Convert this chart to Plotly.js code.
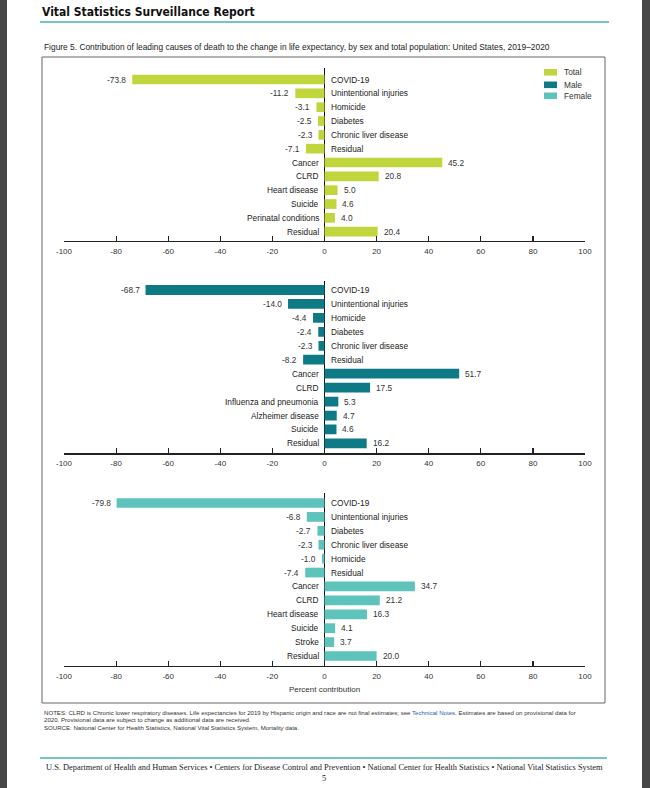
<!DOCTYPE html>
<html>
<head>
<meta charset="utf-8">
<script src="https://cdn.plot.ly/plotly-3.0.1.min.js"></script>
<style>
html,body{margin:0;padding:0;background:#fff;}
#chart{width:650px;height:788px;}
</style>
</head>
<body>
<div id="chart"></div>
<script>
// ---------- DATA ----------
const totalCategories = ["COVID-19","Unintentional injuries","Homicide","Diabetes","Chronic liver disease","Residual","Cancer","CLRD","Heart disease","Suicide","Perinatal conditions","Residual"];
const totalValues = [-73.8,-11.2,-3.1,-2.5,-2.3,-7.1,45.2,20.8,5.0,4.6,4.0,20.4];

const maleCategories = ["COVID-19","Unintentional injuries","Homicide","Diabetes","Chronic liver disease","Residual","Cancer","CLRD","Influenza and pneumonia","Alzheimer disease","Suicide","Residual"];
const maleValues = [-68.7,-14.0,-4.4,-2.4,-2.3,-8.2,51.7,17.5,5.3,4.7,4.6,16.2];

const femaleCategories = ["COVID-19","Unintentional injuries","Diabetes","Chronic liver disease","Homicide","Residual","Cancer","CLRD","Heart disease","Suicide","Stroke","Residual"];
const femaleValues = [-79.8,-6.8,-2.7,-2.3,-1.0,-7.4,34.7,21.2,16.3,4.1,3.7,20.0];

const seriesNames = ["Total","Male","Female"];
const tickValues = [-100,-80,-60,-40,-20,0,20,40,60,80,100];
const xAxisTitle = "Percent contribution";

// ---------- STYLE ----------
const COLORS = {Total:"#c0d63c", Male:"#0e7a85", Female:"#5ec3bb"};
const FONT = "Liberation Sans, Arial, sans-serif";
const W = 650, H = 788;
const px = x => x / W;
const py = y => 1 - y / H;

const panels = [
  {name:"Total", cats: totalCategories, vals: totalValues, top: 68, bottom: 241, first: 79.5, last: 231.7},
  {name:"Male", cats: maleCategories, vals: maleValues, top: 281, bottom: 453.3, first: 290, last: 443.4},
  {name:"Female", cats: femaleCategories, vals: femaleValues, top: 492.7, bottom: 666, first: 503, last: 656}
];

const traces = [];
const annotations = [];
const shapes = [];
const layout = {
  width: W, height: H, autosize: false,
  margin: {l:0, r:0, t:0, b:0},
  paper_bgcolor: "#fff", plot_bgcolor: "rgba(0,0,0,0)",
  showlegend: false,
  bargap: 0.3,
  font: {family: FONT, size: 8, color: "#333"}
};

panels.forEach((p, k) => {
  const sfx = k === 0 ? "" : String(k + 1);
  const xa = "x" + sfx, ya = "y" + sfx;
  const idx = p.cats.map((_, i) => i);
  traces.push({
    type: "bar", orientation: "h",
    x: p.vals, y: idx,
    xaxis: xa, yaxis: ya,
    width: 0.7,
    marker: {color: COLORS[p.name], line: {width: 0}},
    name: p.name, hoverinfo: "skip"
  });
  const sp = (p.last - p.first) / (p.cats.length - 1);
  const rTop = (p.top - p.first) / sp;
  const rBot = (p.bottom - p.first) / sp;
  layout["xaxis" + sfx] = {
    domain: [px(64), px(585)], range: [-100, 100], anchor: ya,
    tickmode: "array", tickvals: tickValues, ticktext: tickValues.map(String),
    ticks: "inside", ticklen: 5, tickwidth: 1.2, tickcolor: "#222",
    showline: true, linecolor: "#222", linewidth: 1.2,
    showgrid: false, zeroline: true, zerolinecolor: "#111", zerolinewidth: 1.2,
    tickfont: {family: FONT, size: 8, color: "#333"},
    ticklabelstandoff: 2,
    fixedrange: true
  };
  if (k === 2) {
    layout["xaxis" + sfx].title = {text: xAxisTitle, font: {family: FONT, size: 8, color: "#333"}, standoff: 6};
  }
  layout["yaxis" + sfx] = {
    domain: [py(p.bottom), py(p.top)], range: [rBot, rTop], anchor: xa,
    visible: false, showgrid: false, zeroline: false, fixedrange: true
  };
  p.vals.forEach((v, i) => {
    const neg = v < 0;
    annotations.push({
      xref: xa, yref: ya, x: 0, y: i, text: p.cats[i], showarrow: false,
      xanchor: neg ? "left" : "right", yanchor: "middle", xshift: neg ? 4.5 : -4,
      font: {family: FONT, size: 8.3, color: "#222"}
    });
    annotations.push({
      xref: xa, yref: ya, x: v, y: i, text: v.toFixed(1), showarrow: false,
      xanchor: neg ? "right" : "left", yanchor: "middle", xshift: neg ? -4 : 4,
      font: {family: FONT, size: 8.3, color: "#333"}
    });
  });
});

// legend (manual, compact)
const legendRows = [72.3, 84.8, 95.8];
seriesNames.forEach((s, i) => {
  shapes.push({type: "rect", xref: "paper", yref: "paper",
    x0: px(544), x1: px(557), y0: py(legendRows[i] - 3.3), y1: py(legendRows[i] + 3.3),
    fillcolor: COLORS[s], line: {width: 0}});
  annotations.push({xref: "paper", yref: "paper", x: px(562), y: py(legendRows[i]),
    text: s, showarrow: false, xanchor: "left", yanchor: "middle",
    font: {family: FONT, size: 8.3, color: "#333"}});
});

// page chrome
shapes.push({type: "rect", xref: "paper", yref: "paper", x0: 0, x1: px(7), y0: 0, y1: 1, fillcolor: "#474747", line: {width: 0}, layer: "below"});
shapes.push({type: "rect", xref: "paper", yref: "paper", x0: px(642), x1: 1, y0: 0, y1: 1, fillcolor: "#474747", line: {width: 0}, layer: "below"});
shapes.push({type: "line", xref: "paper", yref: "paper", x0: px(40), x1: px(609), y0: py(22), y1: py(22), line: {color: "#74c6c1", width: 2}});
shapes.push({type: "rect", xref: "paper", yref: "paper", x0: px(42), x1: px(605), y0: py(703), y1: py(57), line: {color: "#666", width: 1}, fillcolor: "rgba(0,0,0,0)", layer: "below"});
shapes.push({type: "line", xref: "paper", yref: "paper", x0: px(40), x1: px(607), y0: py(758), y1: py(758), line: {color: "#74c6c1", width: 2}});

annotations.push({xref: "paper", yref: "paper", x: px(40), y: py(12), text: "Vital Statistics Surveillance Report",
  showarrow: false, xanchor: "left", yanchor: "middle",
  font: {family: "Liberation Sans Narrow, DejaVu Sans Condensed, sans-serif", size: 12, color: "#111", weight: 700}});
annotations.push({xref: "paper", yref: "paper", x: px(42), y: py(47.5),
  text: "Figure 5. Contribution of leading causes of death to the change in life expectancy, by sex and total population: United States, 2019–2020",
  showarrow: false, xanchor: "left", yanchor: "middle", font: {family: FONT, size: 8.4, color: "#222"}});

const notesLines = [
  "NOTES: CLRD is Chronic lower respiratory diseases. Life expectancies for 2019 by Hispanic origin and race are not final estimates; see <span style='color:#2a5db0'>Technical Notes</span>. Estimates are based on provisional data for",
  "2020. Provisional data are subject to change as additional data are received.",
  "SOURCE: National Center for Health Statistics, National Vital Statistics System, Mortality data."
];
const notesY = [712.5, 719.5, 727];
notesLines.forEach((t, i) => annotations.push({xref: "paper", yref: "paper", x: px(42), y: py(notesY[i]), text: t,
  showarrow: false, xanchor: "left", yanchor: "middle", font: {family: FONT, size: 6.1, color: "#333"}}));

annotations.push({xref: "paper", yref: "paper", x: px(324), y: py(767),
  text: "U.S. Department of Health and Human Services • Centers for Disease Control and Prevention • National Center for Health Statistics • National Vital Statistics System",
  showarrow: false, xanchor: "center", yanchor: "middle", font: {family: "Liberation Serif, Times New Roman, serif", size: 8.4, color: "#222"}});
annotations.push({xref: "paper", yref: "paper", x: px(324), y: py(778), text: "5",
  showarrow: false, xanchor: "center", yanchor: "middle", font: {family: "Liberation Serif, Times New Roman, serif", size: 8.4, color: "#222"}});

layout.annotations = annotations;
layout.shapes = shapes;

Plotly.newPlot("chart", traces, layout, {staticPlot: true, displayModeBar: false});
</script>
</body>
</html>
